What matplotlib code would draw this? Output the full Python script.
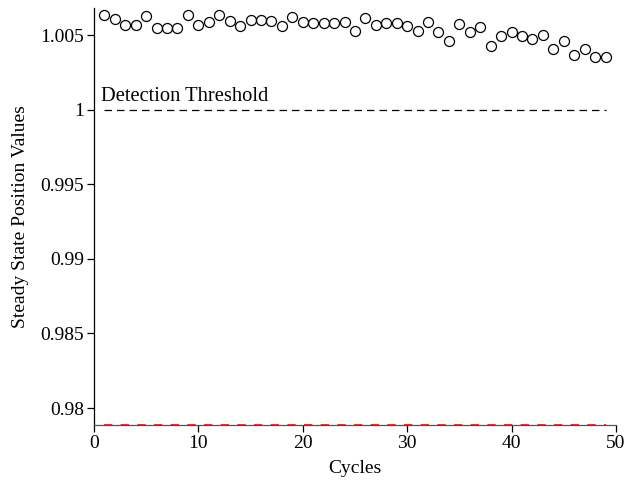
#!/usr/bin/env python3
"""Steady state position values per cycle, with detection threshold."""

import matplotlib

matplotlib.use("Agg")
import matplotlib.pyplot as plt

cycles = list(range(1, 50))
positions = [
    1.00634, 1.00607, 1.00567, 1.00567, 1.00629, 1.00547, 1.00547, 1.00547,
    1.00634, 1.00567, 1.00589, 1.00634, 1.00596, 1.00560, 1.00601, 1.00601,
    1.00596, 1.00560, 1.00619, 1.00589, 1.00580, 1.00580, 1.00580, 1.00589,
    1.00529, 1.00612, 1.00567, 1.00578, 1.00578, 1.00562, 1.00527, 1.00585,
    1.00522, 1.00460, 1.00572, 1.00522, 1.00556, 1.00428, 1.00493, 1.00518,
    1.00495, 1.00471, 1.00500, 1.00404, 1.00462, 1.00366, 1.00404, 1.00351,
    1.00351,
]
threshold = 1.0
lower_limit = 0.97886
upper_limit = 1.0068
x_ticks = [0, 10, 20, 30, 40, 50]
y_ticks = [0.98, 0.985, 0.99, 0.995, 1.0, 1.005]
y_tick_labels = ["0.98", "0.985", "0.99", "0.995", "1", "1.005"]


def main():
    plt.rcParams["font.family"] = ["Liberation Serif", "DejaVu Serif"]
    plt.rcParams["font.size"] = 14

    fig = plt.figure(figsize=(6.26, 4.83), dpi=100)
    ax = fig.add_axes([0.150, 0.120, 0.834, 0.863])

    ax.plot(cycles, positions, "o", markersize=7.2, markerfacecolor="none",
            markeredgecolor="black", markeredgewidth=0.9, clip_on=False)
    ax.plot([cycles[0], cycles[-1]], [threshold, threshold], "--",
            color="black", linewidth=0.9, dashes=(6, 4))
    ax.plot([cycles[0], cycles[-1]], [lower_limit, lower_limit], "--",
            color="red", linewidth=1.2, dashes=(5, 5), clip_on=False, zorder=3)
    ax.text(0.7, threshold + 0.0006, "Detection Threshold", fontsize=14.8)

    ax.set_xlim(0, 50)
    ax.set_ylim(lower_limit, upper_limit)
    ax.set_xticks(x_ticks)
    ax.set_yticks(y_ticks)
    ax.set_yticklabels(y_tick_labels)
    ax.set_xlabel("Cycles", labelpad=6)
    ax.set_ylabel("Steady State Position Values", labelpad=8)

    ax.spines["top"].set_visible(False)
    ax.spines["right"].set_visible(False)
    ax.spines["left"].set_linewidth(0.9)
    ax.spines["bottom"].set_linewidth(0.9)
    ax.spines["bottom"].set_color("#555555")
    ax.tick_params(direction="out", length=5, width=0.9, pad=2)

    fig.savefig("out.png", dpi=100)


if __name__ == "__main__":
    main()
